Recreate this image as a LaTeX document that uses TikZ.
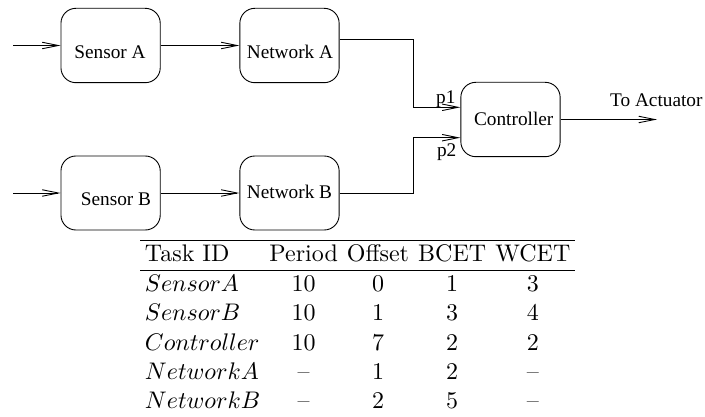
\documentclass[tikz,border=0pt]{standalone}
\usepackage{graphicx}
\usepackage{fontspec}
\usetikzlibrary{arrows.meta}
\newfontfamily\figfont{Liberation Serif}

\tikzset{
  box/.style={draw, line width=0.9pt, rounded corners=15pt, inner sep=0pt},
  boxA/.style={box, minimum width=99.3pt, minimum height=74.4pt},
  lbl/.style={anchor=base, inner sep=0pt, font=\figfont\fontsize{19.3}{23}\selectfont},
  arr/.style={line width=0.9pt, -{Straight Barb[length=16pt,width=6.5pt,line width=0.9pt]}},
  wire/.style={line width=0.9pt}
}

\begin{document}
\begin{tikzpicture}[x=1pt,y=-1pt]
  \useasboundingbox (0,0) rectangle (705,417);

  % processing blocks
  \node[boxA] (sa)   at (110.6,45.5)  {};
  \node[boxA] (na)   at (289.5,45.5)  {};
  \node[boxA, minimum height=74pt] (sb) at (110.6,193) {};
  \node[boxA, minimum height=74pt] (nb) at (289.5,193) {};
  \node[boxA] (ctrl) at (510.5,119.5) {};

  % block captions
  \node[lbl] (saT)   at (110,58.3)    {Sensor A};
  \node[lbl] (naT)   at (290,58.3)    {Network A};
  \node[lbl] (sbT)   at (116,205.7)   {Sensor B};
  \node[lbl] (nbT)   at (289.5,199)   {Network B};
  \node[lbl] (ctrlT) at (513.7,125.7) {Controller};
  \node[lbl] (outT)  at (656.3,106.7) {To Actuator};
  \node[lbl] (p1)    at (445.8,103.3) {p1};
  \node[lbl] (p2)    at (446.7,156.7) {p2};

  % free ends of the signal lines
  \coordinate (inA) at (13,45.5);
  \coordinate (inB) at (13,193);
  \coordinate (out) at (657,119.5);

  % signal flow
  \draw[arr] (inA) -- (sa.west);
  \draw[arr] (sa.east) -- (na.west);
  \draw[arr] (inB) -- (sb.west);
  \draw[arr] (sb.east) -- (nb.west);
  \draw[arr] ([yshift=6.5pt]na.east) -- ++(73.7,0) |- ([yshift=12.2pt]ctrl.west);
  \draw[arr] (nb.east) -- ++(73.7,0) |- ([yshift=-18.2pt]ctrl.west);
  \draw[arr] (ctrl.east) -- (out);

  % task parameters (set at 10pt, then enlarged)
  \node[anchor=north west, inner sep=0pt] (tbl) at (140.2,240) {%
    \scalebox{2.40}{%
    \fontsize{10}{12.15}\selectfont
    \setlength{\tabcolsep}{1.9pt}%
    \setlength{\arrayrulewidth}{0.42pt}%
    \begin{tabular}{lcccc}
      \hline
      Task ID & Period & Offset & BCET & WCET \\
      \hline
      $SensorA$    & 10  & 0 & 1 & 3 \\
      $SensorB$    & 10  & 1 & 3 & 4 \\
      $Controller$ & 10  & 7 & 2 & 2 \\
      $NetworkA$   & --  & 1 & 2 & -- \\
      $NetworkB$   & --  & 2 & 5 & -- \\
    \end{tabular}}};
\end{tikzpicture}
\end{document}
